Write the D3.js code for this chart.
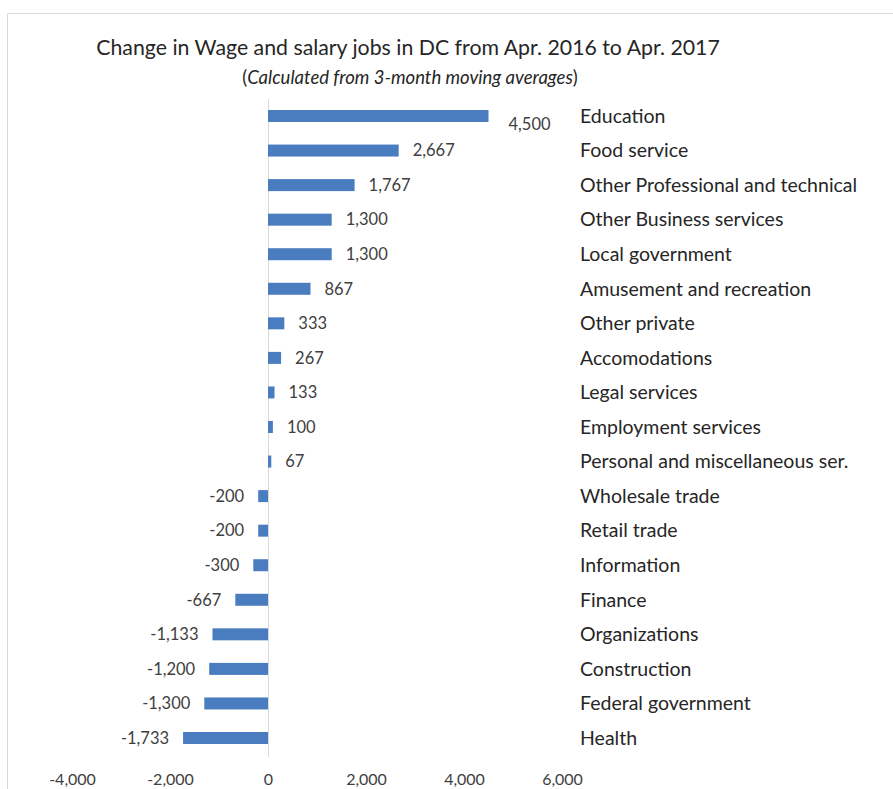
<!DOCTYPE html>
<html>
<head>
<meta charset="utf-8">
<script src="https://cdn.jsdelivr.net/npm/d3@7"></script>
<style>
  html, body { margin: 0; padding: 0; background: #fff; }
  svg { display: block; font-family: Lato, "Open Sans", sans-serif; }
</style>
</head>
<body>
<svg id="chart" width="893" height="789"></svg>
<script>
// Sectors, ordered as drawn from top to bottom
const categories = [
  "Education", "Food service", "Other Professional and technical",
  "Other Business services", "Local government", "Amusement and recreation",
  "Other private", "Accomodations", "Legal services", "Employment services",
  "Personal and miscellaneous ser.", "Wholesale trade", "Retail trade",
  "Information", "Finance", "Organizations", "Construction",
  "Federal government", "Health"
];
// Change in jobs, Apr. 2016 to Apr. 2017
const changes = [
  4500, 2667, 1767, 1300, 1300, 867, 333, 267, 133, 100,
  67, -200, -200, -300, -667, -1133, -1200, -1300, -1733
];
const tickValues = [-4000, -2000, 0, 2000, 4000, 6000];

const data = categories.map((c, i) => ({ name: c, value: changes[i] }));

const svg = d3.select("#chart");
// Thousands separator with a plain hyphen for negatives
const fmt = d3.formatLocale({
  decimal: ".", thousands: ",", grouping: [3], currency: ["$", ""], minus: "-"
}).format(",");

// Outer frame (top and left edges)
svg.append("path")
  .attr("d", "M7.5,789 V13.5 H893")
  .attr("fill", "none")
  .attr("stroke", "#d9d9d9")
  .attr("stroke-width", 1);

const x = d3.scaleLinear().domain([-4000, 6000]).range([72, 562]);
const y = d3.scalePoint().domain(categories).range([116, 738]);
const barH = 12;

// Title
svg.append("text")
  .attr("x", 408).attr("y", 55)
  .attr("text-anchor", "middle")
  .attr("font-size", 21.3)
  .attr("fill", "#262626")
  .text("Change in Wage and salary jobs in DC from Apr. 2016 to Apr. 2017");

const sub = svg.append("text")
  .attr("x", 410).attr("y", 84)
  .attr("text-anchor", "middle")
  .attr("font-size", 18.5)
  .attr("fill", "#262626");
sub.append("tspan").text("(");
sub.append("tspan").attr("font-style", "italic").text("Calculated from 3-month moving averages");
sub.append("tspan").text(")");

// Zero line
svg.append("line")
  .attr("x1", x(0) + 0.5).attr("x2", x(0) + 0.5)
  .attr("y1", 99).attr("y2", 757)
  .attr("stroke", "#d9d9d9");

// Bars
svg.append("g").selectAll("rect")
  .data(data)
  .join("rect")
  .attr("x", d => x(Math.min(0, d.value)))
  .attr("width", d => Math.abs(x(d.value) - x(0)))
  .attr("y", d => y(d.name) - barH / 2)
  .attr("height", barH)
  .attr("fill", "#4a7cc0");

// Value labels
svg.append("g").selectAll("text")
  .data(data)
  .join("text")
  .attr("x", (d, i) => d.value >= 0 ? x(d.value) + (i === 0 ? 20 : 14) : x(d.value) - 14)
  .attr("y", (d, i) => y(d.name) + (i === 0 ? 8 : 0))
  .attr("dy", "0.35em")
  .attr("text-anchor", d => d.value >= 0 ? "start" : "end")
  .attr("font-size", 16.5)
  .attr("fill", "#404040")
  .text(d => fmt(d.value));

// Category labels
svg.append("g").selectAll("text")
  .data(data)
  .join("text")
  .attr("x", 580)
  .attr("y", d => y(d.name))
  .attr("dy", "0.35em")
  .attr("font-size", 19.5)
  .attr("fill", "#262626")
  .text(d => d.name);

// X axis
const axis = svg.append("g")
  .attr("transform", "translate(0,769)")
  .call(d3.axisBottom(x).tickValues(tickValues).tickFormat(fmt).tickSize(0).tickPadding(5));
axis.select(".domain").remove();
axis.selectAll("text")
  .attr("font-family", "Lato, 'Open Sans', sans-serif")
  .attr("font-size", 16)
  .attr("fill", "#404040");
</script>
</body>
</html>
